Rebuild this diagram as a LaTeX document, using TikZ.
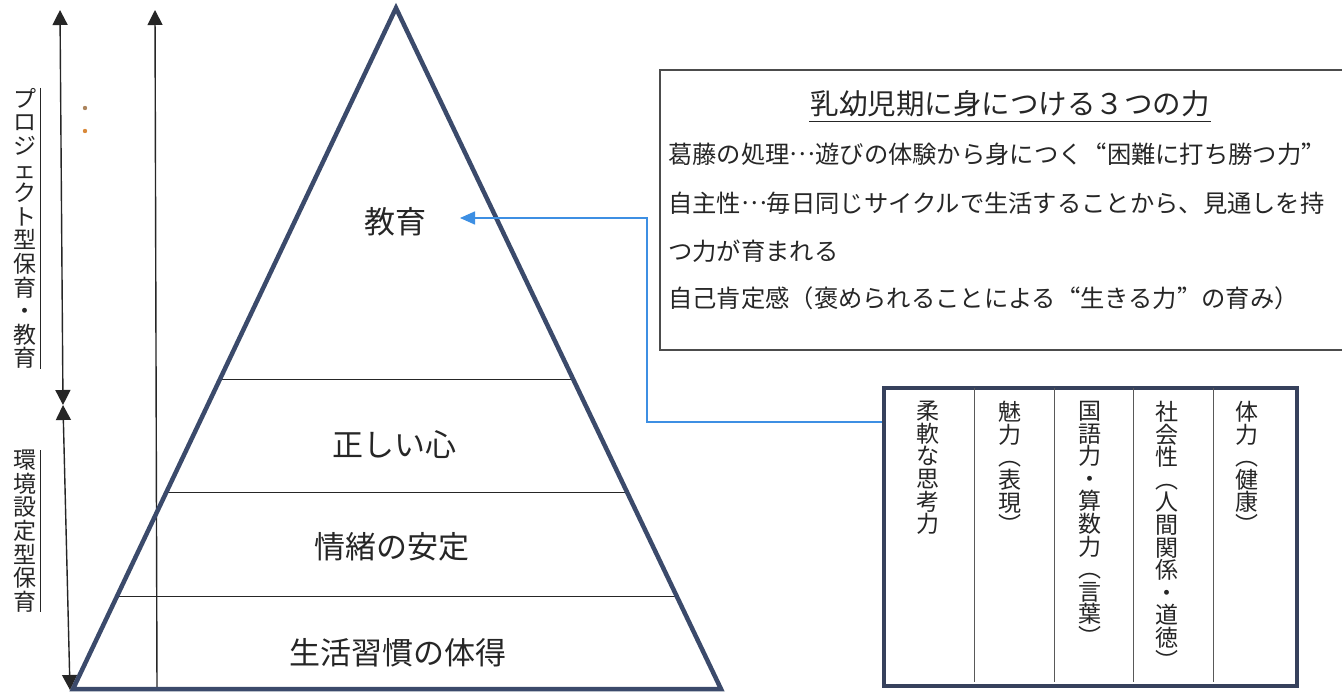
\documentclass[tikz,border=0pt]{standalone}
\usepackage{fontspec}
\setmainfont{Noto Sans CJK JP}
\newfontfamily\jpfw[CharacterWidth=Full]{Noto Sans CJK JP}
\newcommand{\middots}{\raisebox{0.33em}{…}}
\usetikzlibrary{arrows.meta,calc}
\definecolor{tri}{HTML}{3B4A6B}
\definecolor{conn}{HTML}{3D8FE3}
\definecolor{darkbox}{HTML}{36415C}
\definecolor{dotc}{HTML}{D9893A}
\definecolor{ink}{HTML}{262626}
\begin{document}
\begin{tikzpicture}[x=1pt,y=-1pt,
  lvl/.style={font=\fontsize{31}{31}\selectfont, text=ink, inner sep=0pt},
  vlab/.style={align=center, inner xsep=4pt, inner ysep=0pt, anchor=north, font=\fontsize{23}{23.6}\selectfont, text=ink},
  vcol/.style={align=center, inner sep=0pt, anchor=north, font=\fontsize{23}{22.6}\selectfont, text=ink},
  btxt/.style={anchor=west, inner sep=0pt, font=\jpfw\fontsize{24.3}{24.3}\selectfont, text=ink},
  axisarrow/.style={line width=1.4pt, draw=ink, {Triangle[width=15pt,length=15pt]}-{Triangle[width=15pt,length=15pt]}},
  uparrow/.style={line width=1.4pt, draw=ink, -{Triangle[width=15pt,length=15pt]}},
  connector/.style={line width=1.5pt, draw=conn, -{Triangle[width=13pt,length=15pt]}},
  pyr/.style={line width=4.5pt, draw=tri, line join=miter},
  layer/.style={line width=1.1pt, draw=ink},
]
\useasboundingbox[fill=white] (0,0) rectangle (1342,693);

% left axis arrows
\coordinate (a1t) at (60,10);
\coordinate (a1m) at (63,405);
\coordinate (a1b) at (70,690);
\draw[axisarrow] (a1t) -- (a1m);
\draw[axisarrow] (a1m) -- (a1b);
\coordinate (a2t) at (155,10);
\coordinate (a2b) at (157,690);
\draw[uparrow] (a2b) -- (a2t);

% vertical labels
\node[vlab] (lab1) at (25,88) {プ\\ロ\\ジ\\ェ\\ク\\ト\\型\\保\\育\\・\\教\\育};
\draw[line width=1.1pt, draw=ink] (lab1.north east) -- (lab1.south east);
\node[vlab] (lab2) at (25,450) {環\\境\\設\\定\\型\\保\\育};
\draw[line width=1.1pt, draw=ink] (lab2.north east) -- (lab2.south east);

% dots
\fill[dotc!50!gray] (85,108) circle (2.2pt);
\fill[dotc] (85,131) circle (2.2pt);

% pyramid
\coordinate (A) at (396,8);
\coordinate (BL) at (73,689);
\coordinate (BR) at (721,689);
\draw[layer] ($(A)!0.5455!(BL)$) -- ($(A)!0.5455!(BR)$);
\draw[layer] ($(A)!0.7115!(BL)$) -- ($(A)!0.7115!(BR)$);
\draw[layer] ($(A)!0.8643!(BL)$) -- ($(A)!0.8643!(BR)$);
\draw[pyr] (A) -- (BL) -- (BR) -- cycle;

\node[lvl] (edu) at (395,222) {教育};
\node[lvl] (kokoro) at (394,445) {正しい心};
\node[lvl] (jocho) at (392,547) {情緒の安定};
\node[lvl] (seikatsu) at (398,653) {生活習慣の体得};

% box 1
\draw[line width=1.2pt, draw=black!70] (1345,70) -- (660,70) -- (660,350) -- (1345,350);
\node[inner sep=1pt, font=\fontsize{28.5}{28.5}\selectfont, text=ink] (title) at (1010,104) {乳幼児期に身につける３つの力};
\draw[line width=1.6pt, draw=ink] ($(title.south west)+(0,3)$) -- ($(title.south east)+(0,3)$);
\node[btxt] (t1) at (668,154) {葛藤の処理\middots 遊びの体験から身につく“困難に打ち勝つ力”};
\node[btxt] (t2) at (668,203) {自主性\middots 毎日同じサイクルで生活することから、見通しを持};
\node[btxt] (t3) at (668,251) {つ力が育まれる};
\node[btxt] (t4) at (668,298) {自己肯定感（褒められることによる“生きる力”の育み）};

% box 2
\node[draw=darkbox, line width=4pt, minimum width=413pt, minimum height=298pt, inner sep=0pt, anchor=north west] (b2) at (882,386) {};
\foreach \x in {974,1054,1133,1213}
  \draw[line width=1pt, draw=black!65] (\x,388) -- (\x,682);
\node[vcol] (c1) at (928,401) {柔\\軟\\な\\思\\考\\力};
\node[vcol] (c2) at (1010,401) {魅\\力\\︵\\表\\現\\︶};
\node[vcol] (c3) at (1090,401) {国\\語\\力\\・\\算\\数\\力\\︵\\言\\葉\\︶};
\node[vcol] (c4) at (1167,401) {社\\会\\性\\︵\\人\\間\\関\\係\\・\\道\\徳\\︶};
\node[vcol] (c5) at (1247,401) {体\\力\\︵\\健\\康\\︶};

% connector
\coordinate (tip) at (460,218);
\draw[connector] ($(b2.north west)!0.12!(b2.south west)$) -- ++(-235,0) |- (tip);
\end{tikzpicture}
\end{document}
